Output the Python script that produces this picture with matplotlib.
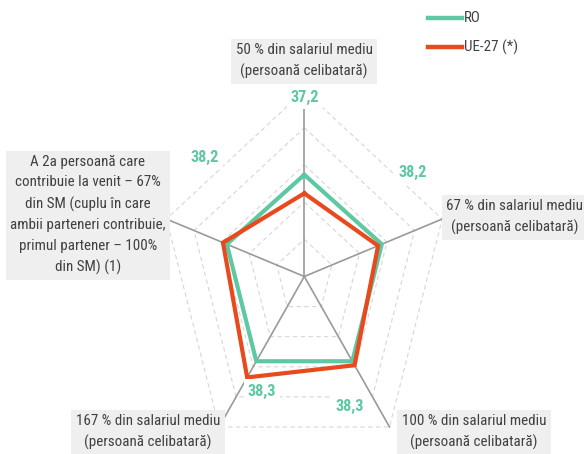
import numpy as np
import matplotlib
matplotlib.use("Agg")
import matplotlib.pyplot as plt
from matplotlib import font_manager

# Radar chart data (order: clockwise starting at the top)
categories = [
    "50 % din salariul mediu\n(persoană celibatară)",
    "67 % din salariul mediu\n(persoană celibatară)",
    "100 % din salariul mediu\n(persoană celibatară)",
    "167 % din salariul mediu\n(persoană celibatară)",
    "A 2a persoană care\ncontribuie la venit – 67%\ndin SM (cuplu în care\nambii parteneri contribuie,\nprimul partener – 100%\ndin SM) (1)",
]
ro_values = [37.2, 38.2, 38.3, 38.3, 38.2]
eu_values = [30.4, 36.4, 40.1, 45.6, 40.1]
ro_labels = ["37,2", "38,2", "38,3", "38,3", "38,2"]
series_names = ["RO", "UE-27 (*)"]

R_MAX = 68.0
N_RINGS = 5

GREEN = "#5ec8a2"
ORANGE = "#e8491d"
TXT = "#404040"

# look for a narrow font, the original uses an Arial Narrow look
font_kw = dict(family="DejaVu Sans")
size = 8.6
for fam, stretch in [("Roboto Condensed", "normal"),
                     ("DejaVu Sans", "condensed")]:
    try:
        fp = font_manager.FontProperties(family=fam, stretch=stretch)
        path = font_manager.findfont(fp, fallback_to_default=False)
    except Exception:
        continue
    if "condensed" in path.lower():
        font_kw = dict(family=fam, fontstretch=stretch)
        size = 10.8
        break

W, H = 584, 454
fig = plt.figure(figsize=(W / 100, H / 100), dpi=100)

# chart centre at ~(304, 276) px, stretched vertically like the original
cx, cy, rx, ry = 304.3, 276.5, 145.0, 186.0
ax = fig.add_axes([(cx - rx) / W, (H - cy - ry) / H, 2 * rx / W, 2 * ry / H])
ax.set_xlim(-R_MAX, R_MAX)
ax.set_ylim(-R_MAX, R_MAX)
ax.axis("off")

n = len(categories)
theta = np.deg2rad(90 - 72 * np.arange(n))
cos_t, sin_t = np.cos(theta), np.sin(theta)

def closed(a):
    return np.append(a, a[0])

# dashed pentagon grid
for k in range(1, N_RINGS + 1):
    r = R_MAX * k / N_RINGS
    ax.plot(closed(r * cos_t), closed(r * sin_t), color="#d6d6d6", lw=0.8,
            dashes=(4, 3), zorder=1, clip_on=False)

# spokes
for c, s in zip(cos_t, sin_t):
    ax.plot([0, R_MAX * c], [0, R_MAX * s], color="#9a9a9a", lw=1.2, zorder=2,
            clip_on=False)

ro = np.array(ro_values)
eu = np.array(eu_values)
ax.plot(closed(ro * cos_t), closed(ro * sin_t), color=GREEN, lw=3,
        solid_joinstyle="miter", zorder=3, clip_on=False)
ax.plot(closed(eu * cos_t), closed(eu * sin_t), color=ORANGE, lw=3,
        solid_joinstyle="miter", zorder=4, clip_on=False)

# category labels (pixel positions from the reference)
box = dict(boxstyle="square,pad=0.3", fc="#efefef", ec="none")
label_pos = [(304, 61), (515, 217), (474, 432), (148, 432), (88, 215)]
for txt, (x, y) in zip(categories, label_pos):
    fig.text(x / W, 1 - y / H, txt, ha="center", va="center", fontsize=size,
             color=TXT, linespacing=1.6, bbox=box, zorder=6, **font_kw)

# RO value labels
value_pos = [(305, 97), (413, 172), (350, 406), (262, 391), (205, 157)]
for txt, (x, y) in zip(ro_labels, value_pos):
    fig.text(x / W, 1 - y / H, txt, ha="center", va="center",
             fontsize=size * 1.08, color=GREEN, fontweight="bold",
             bbox=dict(boxstyle="square,pad=0.25", fc="white", ec="none"),
             zorder=6, **font_kw)

# legend
for i, (name, col) in enumerate(zip(series_names, [GREEN, ORANGE])):
    y = 1 - (18 + 29 * i) / H
    fig.add_artist(plt.Line2D([428 / W, 462 / W], [y, y], color=col, lw=3.2))
    fig.text(464 / W, y, name, ha="left", va="center", fontsize=size,
             color=TXT, **font_kw)

fig.savefig("out.png", dpi=100)
